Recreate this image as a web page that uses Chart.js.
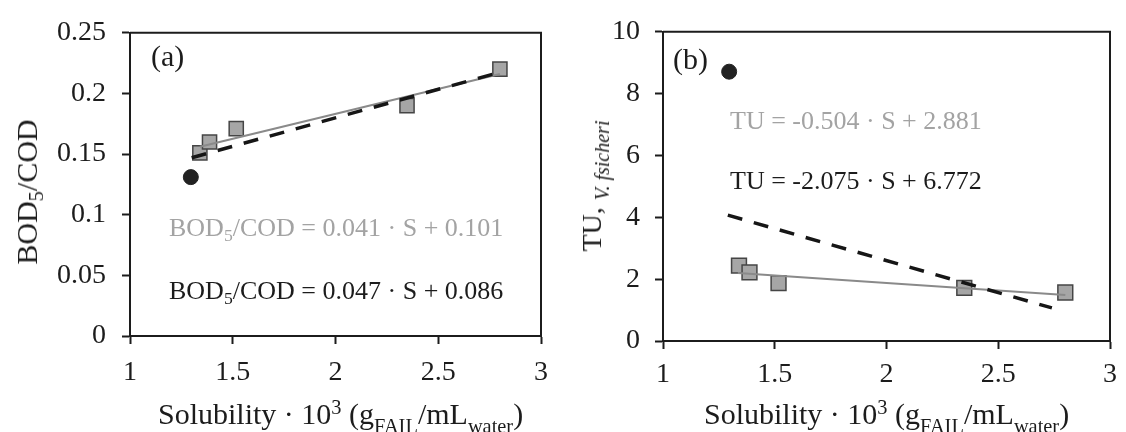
<!DOCTYPE html>
<html>
<head>
<meta charset="utf-8">
<script src="https://cdn.jsdelivr.net/npm/chart.js@4.4.1/dist/chart.umd.min.js"></script>
<style>
    html, body { margin: 0; padding: 0; background: #fff; }
    #fig { position: relative; width: 1126px; height: 432px; overflow: hidden; font-family: 'Liberation Serif', 'Times New Roman', serif; }
    canvas { position: absolute; top: 0; }
    .txt { position: absolute; white-space: nowrap; line-height: 1; color: #1c1c1c; }
    .txt sub, .txt sup { font-size: 0.68em; line-height: 0; position: relative; vertical-align: baseline; }
    .txt sub { top: 0.3em; }
    .txt sup { top: -0.5em; }
    .xtitle sub { top: 0.45em; }
    .eq { font-size: 26px; }
    .gray { color: #a3a3a3; }
    .panel { font-size: 30px; }
    .xtitle { font-size: 30px; }
    .ytitle { transform: translate(-50%, -50%) rotate(-90deg); }
</style>
</head>
<body>
<div id="fig">
    <canvas id="chartA" width="560" height="432" style="left:0"></canvas>
    <canvas id="chartB" width="566" height="432" style="left:560px"></canvas>

    <div class="txt panel" style="left:151px; top:41px">(a)</div>
    <div class="txt panel" style="left:673px; top:44px">(b)</div>

    <div class="txt eq gray" style="left:169px; top:215px">BOD<sub>5</sub>/COD = 0.041 · S + 0.101</div>
    <div class="txt eq" style="left:169px; top:278px">BOD<sub>5</sub>/COD = 0.047 · S + 0.086</div>
    <div class="txt eq gray" style="left:730px; top:108px">TU = -0.504 · S + 2.881</div>
    <div class="txt eq" style="left:730px; top:168px">TU = -2.075 · S + 6.772</div>

    <div class="txt xtitle" style="left:158px; top:399px">Solubility · 10<sup>3</sup> (g<sub>FAIL</sub>/mL<sub>water</sub>)</div>
    <div class="txt xtitle" style="left:704px; top:399px">Solubility · 10<sup>3</sup> (g<sub>FAIL</sub>/mL<sub>water</sub>)</div>

    <div class="txt ytitle" style="left:27px; top:192px; font-size:30px">BOD<sub>5</sub>/COD</div>
    <div class="txt ytitle" style="left:592px; top:186px; font-size:28px">TU, <span style="font-size:20px; font-style:italic; position:relative; top:8px">V. fsicheri</span></div>
</div>

<script>
// Solubility of the compounds (x axis, shared by both panels)
const solubility = [1.34, 1.387, 1.517, 2.348, 2.80];
const solubilityOutlier = [1.296];

// Panel (a): BOD5/COD
const bodCod = [0.151, 0.160, 0.171, 0.190, 0.220];
const bodCodOutlier = [0.131];
const bodFitGrayX = [1.34, 2.80];
const bodFitGrayY = [0.156, 0.216];
const bodFitBlackX = [1.30, 2.79];
const bodFitBlackY = [0.147, 0.217];

// Panel (b): toxic units V. fischeri
const toxicUnits = [2.44, 2.22, 1.87, 1.72, 1.57];
const toxicUnitsOutlier = [8.71];
const tuFitGrayX = [1.335, 2.80];
const tuFitGrayY = [2.20, 1.49];
const tuFitBlackX = [1.29, 2.74];
const tuFitBlackY = [4.07, 1.07];

// Axis ticks
const xTicks = [1, 1.5, 2, 2.5, 3];
const yTicksA = [0, 0.05, 0.1, 0.15, 0.2, 0.25];
const yTicksB = [0, 2, 4, 6, 8, 10];

const FONT = "'Liberation Serif', 'Times New Roman', serif";
const INK = '#1c1c1c';

function toPoints(xs, ys) {
    return xs.map((x, i) => ({ x: x, y: ys[i] }));
}

// Draws the top and right sides of the plot box
const framePlugin = {
    id: 'frame',
    afterDraw(chart) {
        const a = chart.chartArea;
        const ctx = chart.ctx;
        ctx.save();
        ctx.strokeStyle = INK;
        ctx.lineWidth = 2;
        ctx.beginPath();
        ctx.moveTo(a.left, a.top);
        ctx.lineTo(a.right, a.top);
        ctx.lineTo(a.right, a.bottom);
        ctx.stroke();
        ctx.restore();
    }
};

function axisStyle(tickValues, pad, fitFn) {
    return {
        type: 'linear',
        min: tickValues[0],
        max: tickValues[tickValues.length - 1],
        afterBuildTicks: scale => {
            scale.ticks = tickValues.map(v => ({ value: v }));
        },
        afterFit: fitFn,
        ticks: {
            callback: v => String(v),
            color: INK,
            font: { family: FONT, size: 28 },
            padding: pad,
            autoSkip: false,
            maxRotation: 0
        },
        grid: {
            drawOnChartArea: false,
            drawTicks: true,
            tickLength: 8,
            tickWidth: 2,
            color: INK
        },
        border: { color: INK, width: 2 }
    };
}

function buildPanel(canvasId, p) {
    return new Chart(document.getElementById(canvasId), {
        type: 'scatter',
        data: {
            datasets: [
                {
                    data: toPoints(p.blackFitX, p.blackFitY),
                    showLine: true,
                    borderColor: '#161616',
                    borderWidth: 3.5,
                    borderDash: [15, 12],
                    pointRadius: 0,
                    order: 0
                },
                {
                    data: toPoints(p.grayFitX, p.grayFitY),
                    showLine: true,
                    borderColor: '#8a8a8a',
                    borderWidth: 2,
                    pointRadius: 0,
                    order: 1
                },
                {
                    data: toPoints(solubility, p.values),
                    pointStyle: 'rect',
                    pointRadius: p.squareRadius,
                    backgroundColor: '#a6a6a6',
                    borderColor: '#454545',
                    borderWidth: 1.5,
                    order: 2
                },
                {
                    data: toPoints(solubilityOutlier, p.outlier),
                    pointStyle: 'circle',
                    pointRadius: 7.5,
                    backgroundColor: '#222',
                    borderColor: '#222',
                    borderWidth: 1,
                    order: 2
                }
            ]
        },
        options: {
            responsive: false,
            animation: false,
            devicePixelRatio: 1,
            layout: { padding: { top: p.top, right: p.right, left: 0, bottom: 0 } },
            plugins: {
                legend: { display: false },
                tooltip: { enabled: false }
            },
            scales: {
                x: axisStyle(xTicks, p.xPad, s => { s.height = p.xHeight; }),
                y: axisStyle(p.yTicks, p.yPad, s => { s.width = p.yWidth; })
            }
        },
        plugins: [framePlugin]
    });
}

buildPanel('chartA', {
    values: bodCod, outlier: bodCodOutlier,
    grayFitX: bodFitGrayX, grayFitY: bodFitGrayY,
    blackFitX: bodFitBlackX, blackFitY: bodFitBlackY,
    yTicks: yTicksA,
    top: 25, right: 19, yWidth: 130, xHeight: 96,
    xPad: 12, yPad: 16, squareRadius: 10
});

buildPanel('chartB', {
    values: toxicUnits, outlier: toxicUnitsOutlier,
    grayFitX: tuFitGrayX, grayFitY: tuFitGrayY,
    blackFitX: tuFitBlackX, blackFitY: tuFitBlackY,
    yTicks: yTicksB,
    top: 30, right: 9, yWidth: 103, xHeight: 91,
    xPad: 9, yPad: 15, squareRadius: 10.5
});
</script>
</body>
</html>
